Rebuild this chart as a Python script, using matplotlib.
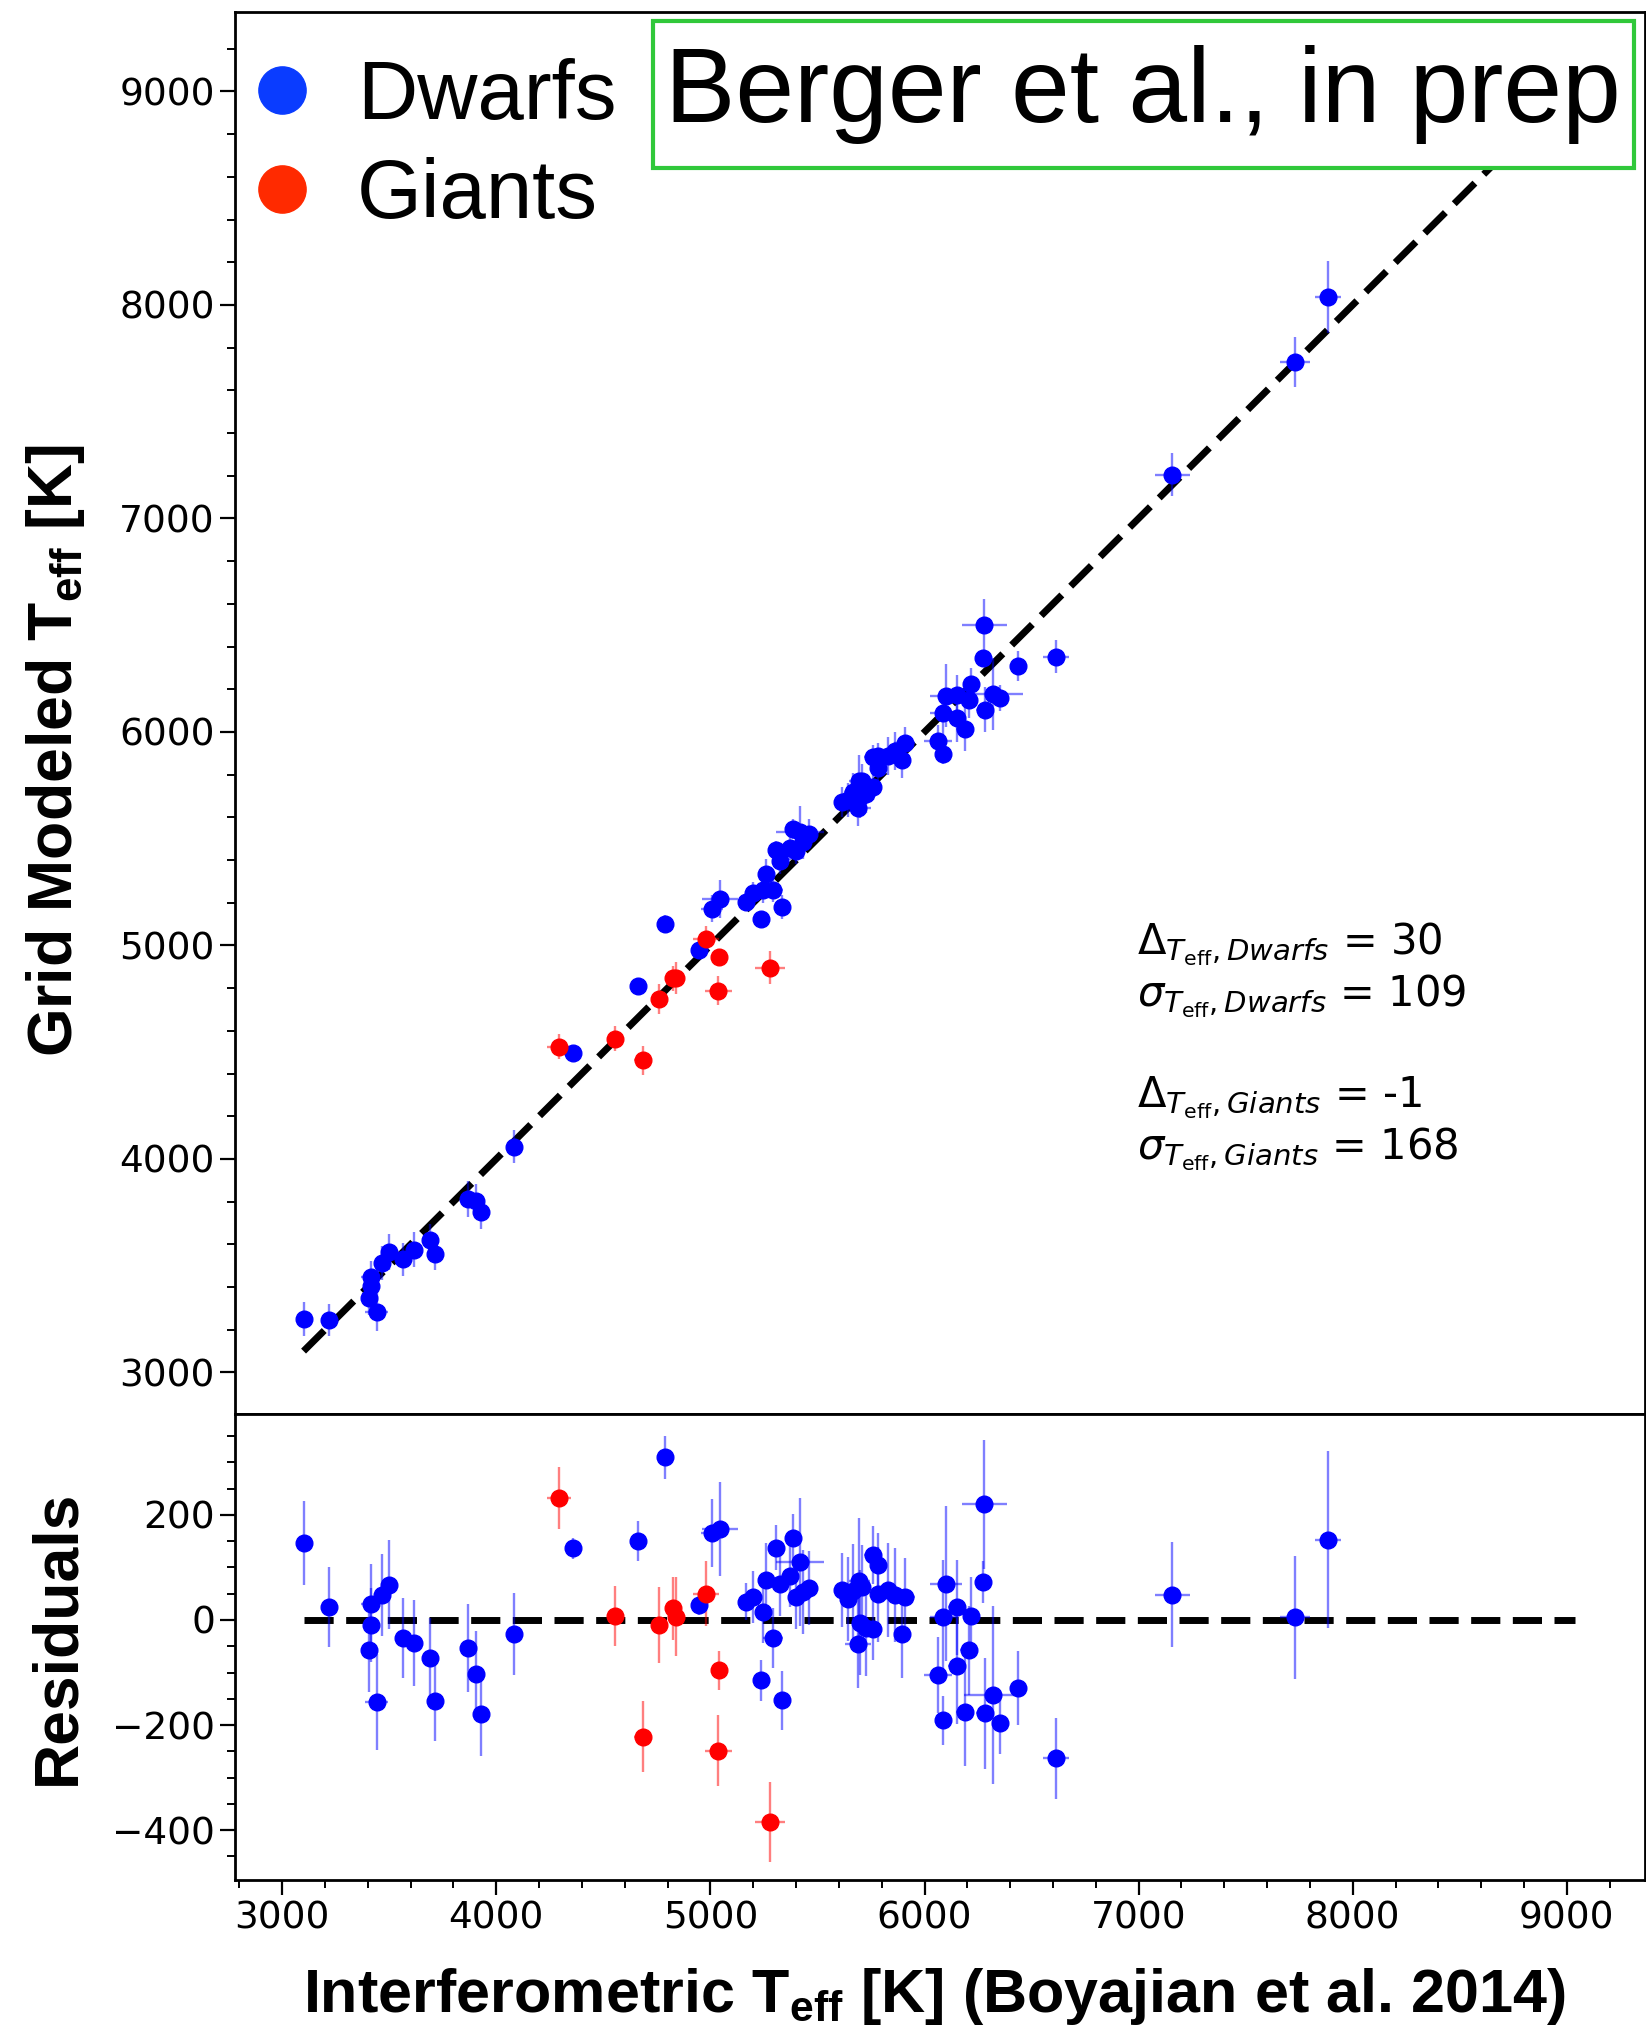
#!/usr/bin/env python3

# grid modeled vs interferometric teff, dwarfs and giants, with residual panel

import numpy as np
import matplotlib
matplotlib.use("Agg")
import matplotlib.pyplot as plt
from matplotlib.lines import Line2D
from matplotlib.patches import Rectangle
from matplotlib.ticker import MultipleLocator

# dwarfs: interferometric teff, grid teff, errors (K)
dwarf_int = [3104, 3221, 3414, 3414, 3407, 3441, 3464, 3497, 3565, 3618,
             3692, 3712, 3866, 3905, 3931, 4084, 4360, 4660, 4790, 4949,
             5008, 5045, 5167, 5201, 5245, 5260, 5237, 5307, 5294, 5335,
             5326, 5374, 5388, 5419, 5400, 5431, 5459, 5615, 5642, 5665,
             5696, 5709, 5701, 5688, 5727, 5759, 5759, 5782, 5782, 5829,
             5864, 5907, 5896, 6101, 6086, 6064, 6086, 6151, 6151, 6188,
             6218, 6207, 6280, 6273, 6282, 6322, 6354, 6438, 6615, 7157,
             7729, 7885]
dwarf_grid = [3250, 3245, 3445, 3404, 3350, 3285, 3512, 3564, 3530, 3575,
              3620, 3557, 3813, 3802, 3752, 4057, 4497, 4811, 5100, 4978,
              5173, 5218, 5202, 5245, 5261, 5336, 5122, 5445, 5260, 5182,
              5394, 5458, 5545, 5530, 5443, 5485, 5520, 5672, 5682, 5720,
              5771, 5772, 5696, 5643, 5711, 5742, 5883, 5887, 5831, 5886,
              5912, 5950, 5870, 6170, 6091, 5959, 5895, 6175, 6063, 6013,
              6226, 6149, 6500, 6346, 6104, 6179, 6158, 6309, 6352, 7205,
              7734, 8038]
dwarf_xerr = [25, 25, 45, 25, 25, 52, 25, 25, 25, 25,
              25, 25, 25, 25, 25, 25, 20, 25, 25, 25,
              50, 82, 30, 30, 30, 30, 25, 30, 46, 25,
              30, 40, 30, 111, 30, 40, 40, 40, 30, 40,
              50, 40, 40, 60, 40, 40, 40, 30, 30, 30,
              30, 50, 30, 74, 60, 66, 30, 40, 40, 40,
              40, 40, 104, 30, 40, 136, 40, 40, 60, 82,
              70, 60]
dwarf_yerr = [80, 76, 75, 70, 80, 91, 78, 85, 76, 82,
              76, 76, 84, 82, 79, 78, 20, 38, 41, 20,
              65, 89, 35, 50, 60, 70, 39, 43, 57, 56,
              60, 60, 45, 122, 60, 80, 70, 70, 80, 90,
              120, 80, 100, 85, 90, 60, 55, 60, 90, 90,
              90, 75, 85, 148, 110, 72, 47, 90, 110, 103,
              73, 85, 122, 40, 105, 169, 60, 70, 77, 100,
              117, 169]

# giants
giant_int = [4294, 4556, 4684, 4759, 4824, 4840, 4980, 5042, 5037, 5280]
giant_grid = [4526, 4564, 4462, 4749, 4846, 4846, 5030, 4946, 4788, 4896]
giant_xerr = [56, 35, 40, 30, 30, 30, 60, 30, 64, 70]
giant_yerr = [59, 57, 67, 72, 60, 75, 62, 37, 68, 76]

one_to_one = [3100, 9040]
stats_text = [r"$\Delta_{T_{\rm eff}, Dwarfs}$ = 30",
              r"$\sigma_{T_{\rm eff}, Dwarfs}$ = 109",
              r"$\Delta_{T_{\rm eff}, Giants}$ = -1",
              r"$\sigma_{T_{\rm eff}, Giants}$ = 168"]
stats_y = [4960, 4715, 4240, 4000]

plt.rcParams['mathtext.fontset'] = 'custom'
plt.rcParams['mathtext.rm'] = 'Liberation Sans:bold'
plt.rcParams['mathtext.bf'] = 'Liberation Sans:bold'
plt.rcParams['xtick.labelsize'] = 27
plt.rcParams['ytick.labelsize'] = 27

dwarf_int = np.array(dwarf_int)
dwarf_grid = np.array(dwarf_grid)
giant_int = np.array(giant_int)
giant_grid = np.array(giant_grid)
dwarf_res = dwarf_grid - dwarf_int
giant_res = giant_grid - giant_int

fig = plt.figure(figsize=(16.46, 20.30), dpi=100)
ax1 = fig.add_axes([0.1428, 0.3034, 0.8566, 0.6907])
ax2 = fig.add_axes([0.1428, 0.0739, 0.8566, 0.2295])

ekw = dict(fmt='o', ms=12, capsize=0, elinewidth=1.7, zorder=3)

ax1.plot(one_to_one, one_to_one, color='k', lw=5, ls='--', dashes=(4.2, 1.8), zorder=1)
ax1.errorbar(dwarf_int, dwarf_grid, xerr=dwarf_xerr, yerr=dwarf_yerr,
             color='blue', ecolor=(0, 0, 1, 0.5), **ekw)
ax1.errorbar(giant_int, giant_grid, xerr=giant_xerr, yerr=giant_yerr,
             color='red', ecolor=(1, 0, 0, 0.5), **ekw)

ax2.plot(one_to_one, [0, 0], color='k', lw=5, ls='--', dashes=(4.2, 1.8), zorder=1)
ax2.errorbar(dwarf_int, dwarf_res, xerr=dwarf_xerr, yerr=dwarf_yerr,
             color='blue', ecolor=(0, 0, 1, 0.5), **ekw)
ax2.errorbar(giant_int, giant_res, xerr=giant_xerr, yerr=giant_yerr,
             color='red', ecolor=(1, 0, 0, 0.5), **ekw)

for ax in (ax1, ax2):
    ax.set_xlim(2780, 9365)
    ax.xaxis.set_major_locator(MultipleLocator(1000))
    ax.xaxis.set_minor_locator(MultipleLocator(200))
    ax.tick_params(which='major', direction='out', length=11, width=1.6)
    ax.tick_params(which='minor', direction='out', length=6, width=1.4)
    for s in ax.spines.values():
        s.set_linewidth(2)

ax1.set_ylim(2805, 9372)
ax1.yaxis.set_major_locator(MultipleLocator(1000))
ax1.yaxis.set_minor_locator(MultipleLocator(200))
ax1.tick_params(axis='x', which='both', bottom=False, labelbottom=False)

ax2.set_ylim(-495, 392)
ax2.yaxis.set_major_locator(MultipleLocator(200))
ax2.yaxis.set_minor_locator(MultipleLocator(50))

lab = dict(fontsize=45, fontweight='bold', family='Liberation Sans')
ax1.set_ylabel(r"Grid Modeled T$_{\mathbf{eff}}$ [K]", **lab)
ax2.set_ylabel("Residuals", **lab)
ax2.set_xlabel(r"Interferometric T$_{\mathbf{eff}}$ [K] (Boyajian et al. 2014)",
               fontsize=44, fontweight='bold', family='Liberation Sans')
ax1.yaxis.set_label_coords(-0.105, 0.473)
ax2.yaxis.set_label_coords(-0.105, 0.52)
ax2.xaxis.set_label_coords(0.496, -0.184)

for txt, yy in zip(stats_text, stats_y):
    ax1.text(6993, yy, txt, fontsize=30, va='baseline', ha='left',
             math_fontfamily='dejavusans')

# green box round the "in prep" note
ax1.add_patch(Rectangle((0.2965, 0.8887), 0.6957, 0.1049, transform=ax1.transAxes,
                        fc='white', ec='#30c83a', lw=3, zorder=5))
ax1.text(0.644, 0.9415, "Berger et al., in prep", transform=ax1.transAxes,
         ha='center', va='center', fontsize=76, family='Liberation Sans',
         zorder=6)

handles = [Line2D([], [], marker='o', ls='', color='#0a3cff', ms=34),
           Line2D([], [], marker='o', ls='', color='#ff2a00', ms=34)]
ax1.legend(handles, ["Dwarfs", "Giants"], loc='upper left',
           bbox_to_anchor=(0.0038, 0.967), borderaxespad=0, borderpad=0,
           frameon=False, handlelength=1.0, handletextpad=0.40,
           labelspacing=0.25, prop=dict(family='Liberation Sans', size=60))

fig.savefig("out.png", dpi=100)
